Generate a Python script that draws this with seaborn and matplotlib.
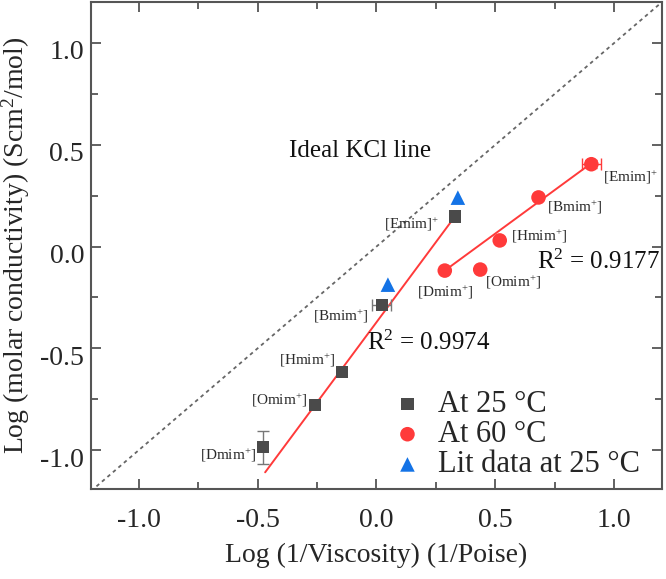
import numpy as np
import pandas as pd
import matplotlib
matplotlib.use('Agg')
import matplotlib.pyplot as plt
import matplotlib.transforms as mtransforms
import seaborn as sns

# %%
# data
names = ['Dmim', 'Omim', 'Hmim', 'Bmim', 'Emim']

x25 = [-0.476, -0.258, -0.145, 0.023, 0.330]
y25 = [-0.985, -0.778, -0.616, -0.286, 0.148]

x60 = [0.287, 0.436, 0.518, 0.681, 0.903]
y60 = [-0.118, -0.113, 0.030, 0.241, 0.404]

x_lit = [0.048, 0.342]
y_lit = [-0.187, 0.240]

# fitted lines (end points)
fit25_x = [-0.468, 0.330]
fit25_y = [-1.108, 0.148]
fit60_x = [0.287, 0.903]
fit60_y = [-0.118, 0.409]

# error bars: (index, xerr, yerr)
err25 = [(0, 0.0, 0.08), (3, 0.04, 0.0)]
err60 = [(4, 0.04, 0.02)]

r2_25 = '0.9974'
r2_60 = '0.9177'

df25 = pd.DataFrame({'x': x25, 'y': y25, 'name': names})
df60 = pd.DataFrame({'x': x60, 'y': y60, 'name': names})
dflit = pd.DataFrame({'x': x_lit, 'y': y_lit})

# %%
sns.set_style('ticks')
plt.rcParams['font.family'] = ['Liberation Serif', 'DejaVu Serif']
plt.rcParams['mathtext.fontset'] = 'custom'
plt.rcParams['mathtext.rm'] = 'Liberation Serif'
plt.rcParams['mathtext.it'] = 'Liberation Serif:italic'
plt.rcParams['axes.unicode_minus'] = False

gray = '#4a4a4a'
red = '#ff3a3a'
blue = '#1473e6'
axcol = '#555555'

fig = plt.figure(figsize=(6.66, 5.79), dpi=100)
ax = fig.add_axes([0.1366, 0.1554, 0.8574, 0.8411])

# ideal KCl line
kcl = np.array([-1.2, 1.2])
ax.plot(kcl, kcl, color='#666666', lw=1.3, ls=(0, (2, 2)), zorder=1)

# fit lines
sns.lineplot(x=fit25_x, y=fit25_y, color=red, lw=1.4, ax=ax, zorder=2)
sns.lineplot(x=fit60_x, y=fit60_y, color=red, lw=1.4, ax=ax, zorder=2)

# error bars
for i, xe, ye in err25:
    ax.errorbar(x25[i], y25[i], xerr=xe or None, yerr=ye or None, fmt='none',
                ecolor='#777777', elinewidth=1.0, capsize=4, zorder=2)
for i, xe, ye in err60:
    ax.errorbar(x60[i], y60[i], xerr=xe or None, yerr=ye or None, fmt='none',
                ecolor=red, elinewidth=1.0, capsize=4, zorder=2)

# points
sns.scatterplot(data=df25, x='x', y='y', marker='s', s=80, color=gray,
                edgecolor='none', ax=ax, zorder=3, label='At 25 °C')
sns.scatterplot(data=df60, x='x', y='y', marker='o', s=110, color=red,
                edgecolor='none', ax=ax, zorder=3, label='At 60 °C')
sns.scatterplot(data=dflit, x='x', y='y', marker='^', s=110, color=blue,
                edgecolor='none', ax=ax, zorder=3, label='Lit data at 25 °C')

# point labels
off25 = [(-7, -8, 'right'), (-8, 5, 'right'), (-7, 12, 'right'),
         (-13, -12, 'right'), (-16, -8, 'right')]
off60 = [(0, -22, 'center'), (5, -13, 'left'), (11, 4, 'left'),
         (8, -10, 'left'), (12, -13, 'left')]

def lab(n):
    if n == 'Emim':
        return '[Emim]$^{+}$'
    return '[' + n + '$^{+}$]'

for (xx, yy, n), (dx, dy, ha) in zip(zip(x25, y25, names), off25):
    ax.annotate(lab(n), (xx, yy), xytext=(dx, dy), textcoords='offset pixels',
                ha=ha, va='center', fontsize=11, color='#2a2a2a')
for (xx, yy, n), (dx, dy, ha) in zip(zip(x60, y60, names), off60):
    ax.annotate(lab(n), (xx, yy), xytext=(dx, dy), textcoords='offset pixels',
                ha=ha, va='center', fontsize=11, color='#2a2a2a')

ax.text(-0.069, 0.468, 'Ideal KCl line', fontsize=18, ha='center', va='center',
        color='#111111')
ax.text(-0.04, -0.473, 'R$^{2}$ = ' + r2_25, fontsize=18, ha='left', va='center',
        color='#111111')
ax.text(0.673, -0.074, 'R$^{2}$ = ' + r2_60, fontsize=18, ha='left', va='center',
        color='#111111')

# axes
ax.set_xlim(-1.2, 1.2)
ax.set_ylim(-1.19, 1.2)
ax.set_xticks([-1.0, -0.5, 0.0, 0.5, 1.0])
ax.set_yticks([-1.0, -0.5, 0.0, 0.5, 1.0])
ax.set_xticks(np.arange(-1.0, 1.01, 0.25), minor=True)
ax.set_yticks(np.arange(-1.0, 1.01, 0.25), minor=True)
ax.tick_params(which='both', direction='in', top=True, right=True, color=axcol,
               width=1.3, labelsize=20)
ax.tick_params(which='major', length=7)
ax.tick_params(which='minor', length=5)
ax.tick_params(axis='x', pad=14)
ax.tick_params(axis='y', pad=5)
for sp in ax.spines.values():
    sp.set_color(axcol)
    sp.set_linewidth(1.5)

shift = mtransforms.ScaledTranslation(0, -7 / 100, fig.dpi_scale_trans)
for t in ax.get_yticklabels():
    t.set_transform(t.get_transform() + shift)

ax.set_xlabel('Log (1/Viscosity) (1/Poise)', fontsize=20, labelpad=7)
ax.set_ylabel('Log (molar conductivity) (Scm$^{2}$/mol)', fontsize=20, labelpad=6)

ax.legend(loc='lower left', bbox_to_anchor=(0.49, -0.018), frameon=False,
          fontsize=22, handletextpad=0.4, labelspacing=0.04, borderaxespad=0.2,
          handlelength=1.2)

fig.savefig('out.png', dpi=100)
